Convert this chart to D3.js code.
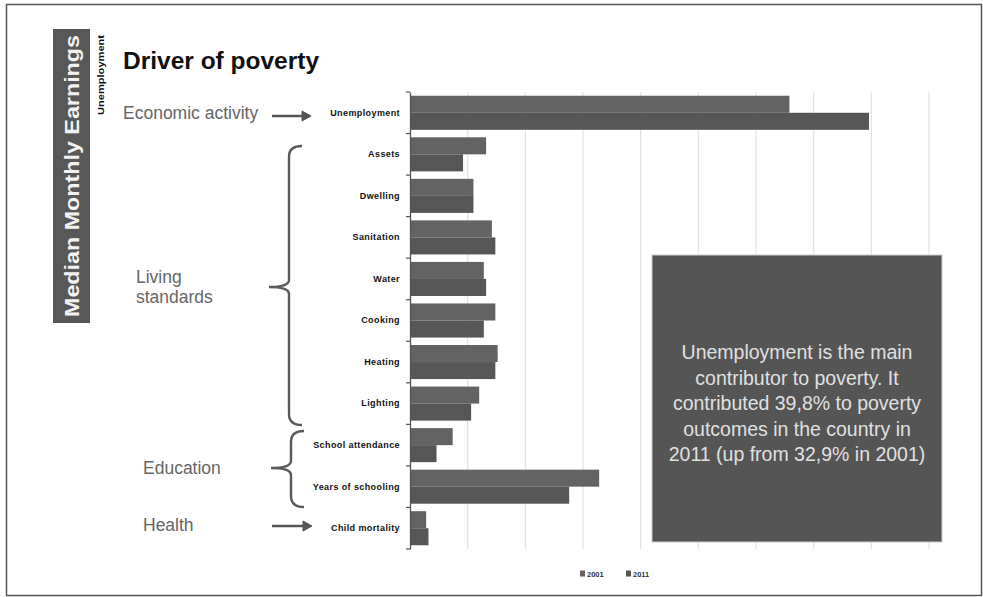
<!DOCTYPE html>
<html><head><meta charset="utf-8">
<script src="https://cdn.jsdelivr.net/npm/d3@7"></script>
<style>body{margin:0;background:#fff}svg{display:block;font-family:"Liberation Sans",Arial,sans-serif}</style>
</head><body><svg id="c" width="983" height="597"></svg>
<script>
const categories = ["Unemployment","Assets","Dwelling","Sanitation","Water","Cooking","Heating","Lighting","School attendance","Years of schooling","Child mortality"];
const series = ["2001","2011"];
const values2001 = [32.9,6.6,5.5,7.1,6.4,7.4,7.6,6.0,3.7,16.4,1.4];
const values2011 = [39.8,4.6,5.5,7.4,6.6,6.4,7.4,5.3,2.3,13.8,1.6];
const xTicks = [0,5,10,15,20,25,30,35,40,45];
const colors = ["#636363","#565656"];
const noteLines = ["Unemployment  is the main","contributor to poverty. It","contributed 39,8% to poverty","outcomes in the country in","2011 (up from 32,9% in 2001)"];

const svg = d3.select("#c");
// frame
svg.append("rect").attr("x",6.5).attr("y",4.5).attr("width",975).attr("height",591).attr("fill","none").attr("stroke","#555").attr("stroke-width",1.5);

const x = d3.scaleLinear().domain([0,45]).range([410,929]);
const y = d3.scaleBand().domain(categories).range([92,549]).paddingInner(0.18).paddingOuter(0.09);
const y2 = d3.scaleBand().domain(series).range([0,y.bandwidth()]);

// grid
svg.append("g").selectAll("line").data(xTicks.slice(1)).join("line")
  .attr("x1",d=>x(d)).attr("x2",d=>x(d)).attr("y1",92).attr("y2",549)
  .attr("stroke","#e2e2e2").attr("stroke-width",1.2);

// bars
const data = categories.map((c,i)=>({c, v:[values2001[i],values2011[i]]}));
const g = svg.append("g");
data.forEach(d=>{
  series.forEach((s,j)=>{
    g.append("rect").attr("x",x(0)).attr("y",y(d.c)+y2(s)).attr("width",x(d.v[j])-x(0))
     .attr("height",y2.bandwidth()).attr("fill",colors[j]);
  });
});

// axis
const yAxis = d3.axisLeft(d3.scaleBand().domain(categories).range([92,549])).tickSize(0).tickPadding(10);
const ax = svg.append("g").attr("transform","translate(410,0)").call(yAxis);
ax.select(".domain").attr("stroke","#555").attr("stroke-width",1.3);
ax.selectAll("text").attr("font-size",9).attr("font-weight","bold").attr("fill","#111").style("letter-spacing","0.4px");
const step = (549-92)/categories.length;
ax.append("g").selectAll("line").data(d3.range(categories.length+1)).join("line")
  .attr("x1",-4).attr("x2",0).attr("y1",i=>92+i*step).attr("y2",i=>92+i*step).attr("stroke","#555").attr("stroke-width",1.2);

// dark band
svg.append("rect").attr("x",53).attr("y",29).attr("width",37).attr("height",294).attr("fill","#585858");
svg.append("text").attr("transform","translate(79,176) rotate(-90)").attr("text-anchor","middle")
  .attr("font-size",21).attr("font-weight","bold").attr("fill","#f2f2f2")
  .attr("textLength",282).attr("lengthAdjust","spacingAndGlyphs").text("Median Monthly Earnings");
svg.append("text").attr("transform","translate(104,75) rotate(-90)").attr("text-anchor","middle")
  .attr("font-size",9.5).attr("font-weight","bold").attr("fill","#111")
  .attr("textLength",80).attr("lengthAdjust","spacingAndGlyphs").text("Unemployment");

// title
svg.append("text").attr("x",123).attr("y",69).attr("font-size",24.5).attr("font-weight","bold").attr("fill","#111").text("Driver of poverty");

// group labels
const lab = (t,xx,yy)=>svg.append("text").attr("x",xx).attr("y",yy).attr("font-size",17.5).attr("fill","#666").text(t);
lab("Economic activity",123,119);
lab("Living",136,283);
lab("standards",136,303);
lab("Education",143,474);
lab("Health",143,531);

// arrows
function arrow(x1,x2,yy){
  svg.append("line").attr("x1",x1).attr("x2",x2-6).attr("y1",yy).attr("y2",yy).attr("stroke","#555").attr("stroke-width",2.6);
  svg.append("path").attr("d",`M${x2-9},${yy-5}L${x2},${yy}L${x2-9},${yy+5}Z`).attr("fill","#555").attr("stroke","#555").attr("stroke-width",1);
}
arrow(272,311,116);
arrow(272,312,526);

// braces
function brace(xb,top,mid,bot,tip){
  const r=7;
  const p=`M${xb+13},${top} Q${xb},${top} ${xb},${top+r+4} L${xb},${mid-r} Q${xb},${mid} ${tip},${mid} Q${xb},${mid} ${xb},${mid+r} L${xb},${bot-r-4} Q${xb},${bot} ${xb+13},${bot}`;
  svg.append("path").attr("d",p).attr("fill","none").attr("stroke","#5a5a5a").attr("stroke-width",2.4);
}
brace(289,146,287,425,269);
brace(291,431,468,507,271);

// note box
svg.append("rect").attr("x",652).attr("y",255).attr("width",290).attr("height",287).attr("fill","#555").attr("stroke","#ccc").attr("stroke-width",1);
svg.append("g").selectAll("text").data(noteLines).join("text")
  .attr("x",797).attr("y",(d,i)=>359+i*25.6).attr("text-anchor","middle")
  .attr("font-size",19.5).attr("fill","#e0e0e0").text(d=>d);

// legend
const leg = svg.append("g").attr("transform","translate(580,574)");
series.forEach((s,i)=>{
  const gx=i*46;
  leg.append("rect").attr("x",gx).attr("y",-3.5).attr("width",5).attr("height",6).attr("fill",colors[i]);
  leg.append("text").attr("x",gx+7).attr("y",2.5).attr("font-size",7.5).attr("font-weight","bold").attr("fill","#333").text(s);
});
</script></body></html>
